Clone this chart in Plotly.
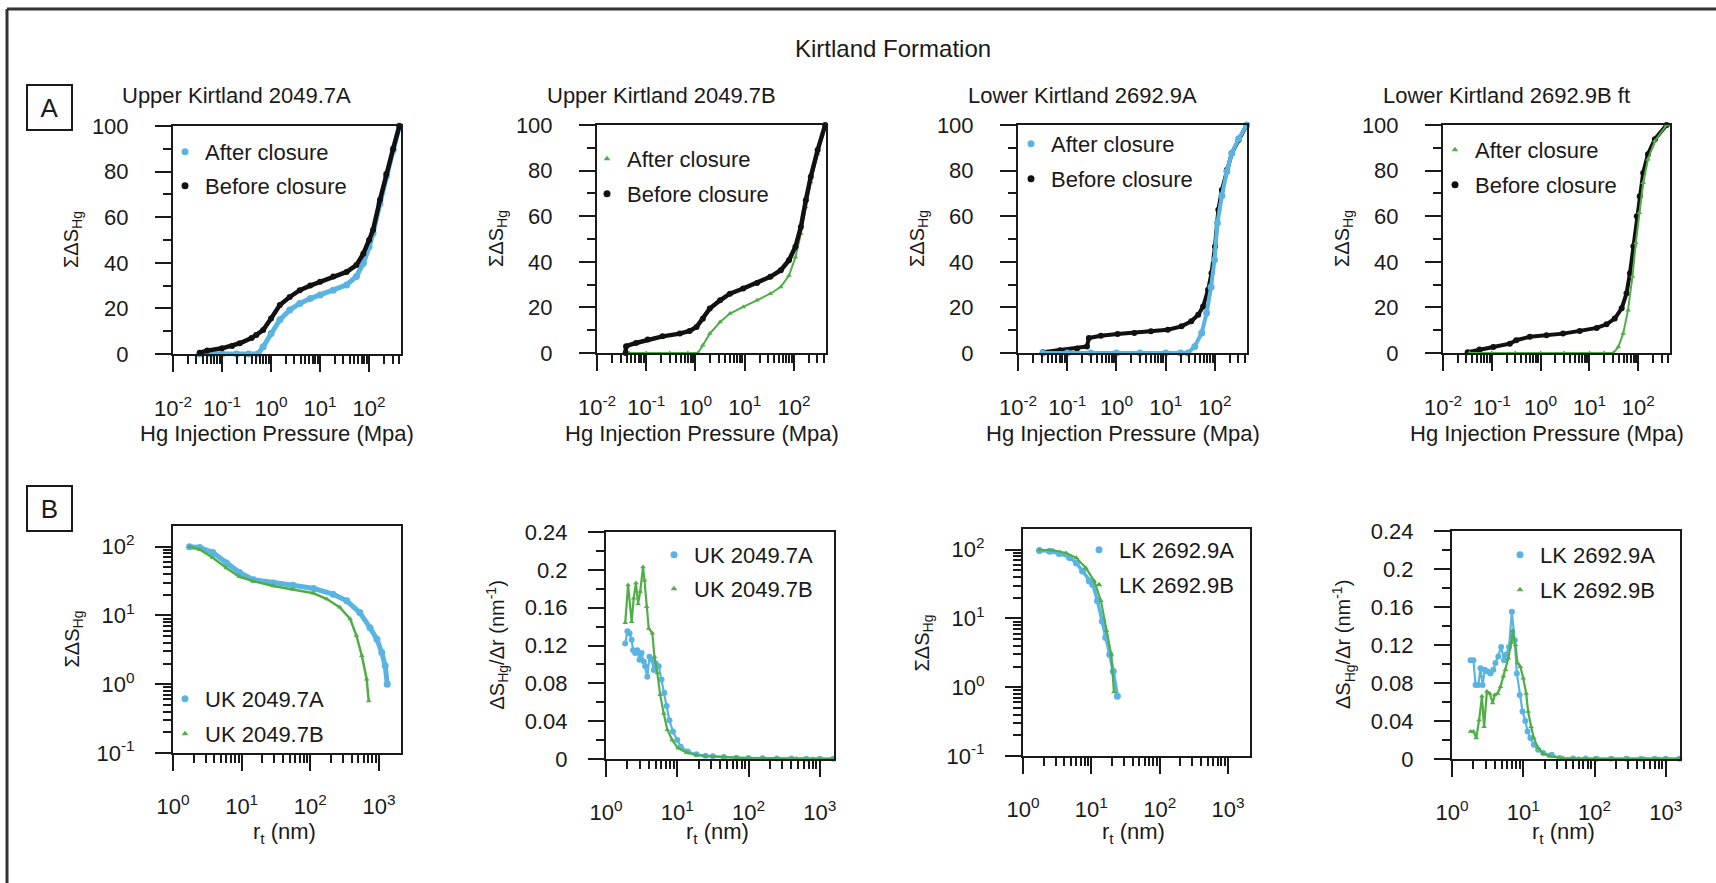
import plotly.graph_objects as go

W, H = 1716, 883
BLUE = "#5ab4e1"
GREEN = "#4fae45"
BLACK = "#111111"
INK = "#1a1a1a"
FONT = "Liberation Sans, Arial, sans-serif"

# ---------------- Row A: cumulative Hg saturation vs injection pressure (MPa) ----------------
A1_before_p = [0.035, 0.05, 0.1, 0.16, 0.23, 0.40, 0.50, 0.69, 1.0, 1.51, 2.4, 3.85, 6.3, 10, 18.6, 34.7, 55, 76, 100, 120, 166, 224, 309, 415]
A1_before_s = [0.6, 1.5, 2.5, 3.5, 4.7, 7.0, 8.3, 10.5, 15.6, 21.5, 25, 28, 30, 31.7, 34, 36, 39, 44, 50, 54.4, 67.5, 79, 90, 100]
A1_after_p = [0.035, 0.06, 0.1, 0.2, 0.35, 0.54, 0.69, 1.0, 1.51, 2.4, 3.85, 6.3, 10, 18.6, 34.7, 55, 76, 100, 120, 166, 224, 309, 415]
A1_after_s = [0, 0, 0, 0, 0, 0, 3.2, 9, 15, 19.3, 22.2, 24.3, 25.9, 28, 30.3, 34, 39.8, 47, 53, 66, 78, 89.5, 100]

A2_before_p = [0.038, 0.039, 0.062, 0.107, 0.214, 0.48, 0.76, 1.05, 1.41, 1.95, 3.16, 5.0, 9.3, 17.8, 33, 54, 79, 107, 138, 174, 219, 302, 430]
A2_before_s = [0, 3, 4.4, 5.9, 7.3, 8.5, 9.7, 11.4, 15, 19.5, 23.1, 26, 28.3, 30.7, 33.4, 36.3, 40.7, 46.6, 55.3, 67, 77.3, 89, 100]
A2_after_p = [0.045, 0.1, 0.3, 0.7, 1.12, 1.41, 1.95, 3.16, 5.0, 9.3, 17.8, 33, 54, 79, 107, 138, 174, 219, 302, 430]
A2_after_s = [0, 0, 0, 0, 0, 3.4, 8.5, 13.6, 17.3, 20.2, 23.1, 26, 29, 34, 42, 52.4, 64, 75, 87.4, 100]

A3_before_p = [0.032, 0.071, 0.158, 0.251, 0.275, 0.48, 1.05, 2.29, 5.0, 11, 20.9, 33, 45.7, 57.5, 72.4, 85, 100, 117, 138, 174, 219, 302, 440]
A3_before_s = [0.3, 1.2, 2.0, 2.9, 6.6, 7.6, 8.3, 8.8, 9.5, 10.2, 11.7, 13.9, 16.8, 20.4, 27.7, 35, 46.7, 62.8, 71.5, 80.3, 87.6, 93.4, 100]
A3_after_p = [0.032, 0.1, 0.3, 1, 3, 10, 20, 28.2, 38.9, 53.7, 67.6, 83.2, 97.7, 112, 138, 174, 219, 302, 440]
A3_after_s = [0, 0, 0, 0, 0, 0, 0, 0, 2.9, 8.8, 17.5, 29, 40.9, 57, 69, 79.6, 87.6, 94, 100]

A4_before_p = [0.032, 0.056, 0.107, 0.234, 0.316, 0.60, 1.32, 2.88, 6.3, 14.1, 22.4, 33, 45.7, 57.5, 67.6, 79.4, 93.3, 107, 126, 158, 219, 380]
A4_before_s = [0.3, 1.5, 2.6, 4.1, 5.6, 7.1, 7.8, 8.5, 9.7, 11, 12.6, 15.1, 19.6, 26.2, 35, 46.8, 60, 68.8, 79, 87.2, 93.8, 100]
A4_after_p = [0.035, 0.1, 0.3, 1, 3, 10, 20, 30.9, 38.9, 49, 61.7, 75.9, 89.1, 105, 126, 158, 219, 380]
A4_after_s = [0, 0, 0, 0, 0, 0, 0, 0, 2.6, 8.5, 18.8, 33.5, 48.2, 61.5, 74.7, 85, 93, 100]

# ---------------- Row B: pore-throat radius r_t (nm) ----------------
B1_A_r = [1.74, 2.45, 3.8, 6.0, 9.3, 14.8, 28.8, 56, 112, 214, 339, 525, 741, 933, 1096, 1230, 1318]
B1_A_s = [100, 97, 82, 58, 42, 33, 29.5, 27.5, 24.6, 20.4, 16.3, 11, 6.6, 4.5, 2.9, 1.85, 1.0]
B1_B_r = [1.74, 2.45, 3.8, 6.0, 9.3, 14.8, 28.8, 56, 112, 174, 269, 380, 468, 562, 661, 708]
B1_B_s = [100, 91, 69, 49, 36.5, 31.6, 26.8, 24, 21, 17.3, 13.1, 8.9, 5.1, 2.6, 1.18, 0.57]

B2_A_r = [1.86, 2.0, 2.14, 2.29, 2.4, 2.57, 2.75, 2.95, 3.16, 3.39, 3.55, 3.8, 4.07, 4.37, 4.68, 5.0, 5.5, 6.03, 6.6, 7.08, 7.76, 8.7, 10, 11.2, 14.1, 18.6, 25, 31.6, 45, 67.6, 100, 158, 250, 400, 650, 1000, 1550]
B2_A_d = [0.122, 0.135, 0.133, 0.126, 0.115, 0.112, 0.115, 0.105, 0.112, 0.103, 0.098, 0.087, 0.108, 0.105, 0.094, 0.101, 0.098, 0.084, 0.070, 0.056, 0.041, 0.029, 0.020, 0.013, 0.008, 0.005, 0.0035, 0.0028, 0.002, 0.0014, 0.001, 0.0007, 0.0005, 0.0004, 0.0003, 0.0003, 0.0003]
B2_B_r = [1.86, 2.04, 2.29, 2.45, 2.63, 2.82, 3.02, 3.31, 3.47, 3.72, 3.98, 4.47, 4.79, 5.25, 5.75, 6.46, 7.24, 8.51, 10.2, 13.5, 18.6, 25, 31.6, 45, 67.6, 100, 158, 250, 468, 800, 1550]
B2_B_d = [0.144, 0.184, 0.145, 0.170, 0.186, 0.164, 0.177, 0.203, 0.189, 0.161, 0.138, 0.133, 0.108, 0.091, 0.068, 0.048, 0.031, 0.020, 0.0116, 0.007, 0.004, 0.003, 0.0025, 0.0018, 0.0014, 0.001, 0.0007, 0.0005, 0.0004, 0.0003, 0.0003]

B3_A_r = [1.74, 2.45, 3.39, 4.79, 6.03, 7.41, 9.33, 10.5, 12.3, 14.5, 16.2, 18.6, 20.9, 24.0]
B3_A_s = [97.5, 94.5, 88, 77, 64, 49, 35, 31, 18, 9.1, 5.3, 3.0, 1.7, 0.74]
B3_B_r = [1.74, 2.75, 4.27, 6.03, 8.32, 11, 13.8, 16.6, 19.5, 21.4]
B3_B_s = [99, 98, 89.5, 76, 54, 35, 18, 6.6, 3.0, 0.85]

B4_A_r = [1.82, 2.0, 2.14, 2.34, 2.51, 2.69, 2.88, 3.16, 3.47, 3.8, 4.07, 4.47, 4.9, 5.37, 5.75, 6.31, 6.92, 7.59, 8.13, 8.91, 9.77, 10.7, 11.5, 12.6, 14.1, 16.2, 19.1, 25.1, 32.4, 50, 75, 107, 170, 280, 450, 700, 1000, 1550]
B4_A_d = [0.104, 0.104, 0.078, 0.078, 0.0955, 0.078, 0.094, 0.092, 0.090, 0.094, 0.101, 0.108, 0.118, 0.104, 0.110, 0.118, 0.155, 0.125, 0.090, 0.0675, 0.050, 0.040, 0.029, 0.022, 0.015, 0.0098, 0.0063, 0.0045, 0.001, 0.0005, 0.0004, 0.0003, 0.0003, 0.0003, 0.0003, 0.0003, 0.0003, 0.0003]
B4_B_r = [1.82, 2.0, 2.19, 2.4, 2.63, 2.82, 3.09, 3.39, 3.72, 3.98, 4.37, 4.79, 5.25, 5.62, 6.17, 6.76, 7.08, 7.76, 8.32, 9.12, 10, 11, 11.7, 12.9, 14.1, 16.2, 19.1, 23.4, 36.3, 60, 100, 182, 300, 500, 800, 1550]
B4_B_d = [0.029, 0.029, 0.022, 0.041, 0.066, 0.034, 0.071, 0.069, 0.059, 0.0675, 0.069, 0.076, 0.087, 0.094, 0.106, 0.122, 0.135, 0.120, 0.101, 0.097, 0.085, 0.069, 0.050, 0.034, 0.022, 0.0115, 0.0056, 0.0028, 0.001, 0.0005, 0.0004, 0.0003, 0.0003, 0.0003, 0.0003, 0.0003]

# ---------------- labels ----------------
main_title = "Kirtland Formation"
panel_titles = ["Upper Kirtland 2049.7A", "Upper Kirtland 2049.7B", "Lower Kirtland 2692.9A", "Lower Kirtland 2692.9B ft"]
x_title_A = "Hg Injection Pressure (Mpa)"
x_title_B = "r<sub>t</sub> (nm)"
y_title_cum = "ΣΔS<sub>Hg</sub>"
y_title_inc = "ΔS<sub>Hg</sub>/Δr (nm<sup>-1</sup>)"
pressure_ticks = [0.01, 0.1, 1, 10, 100]
pressure_ticktext = ["10<sup>-2</sup>", "10<sup>-1</sup>", "10<sup>0</sup>", "10<sup>1</sup>", "10<sup>2</sup>"]
radius_ticks = [1, 10, 100, 1000]
radius_ticktext = ["10<sup>0</sup>", "10<sup>1</sup>", "10<sup>2</sup>", "10<sup>3</sup>"]
cum_log_ticks = [0.1, 1, 10, 100]
cum_log_ticktext = ["10<sup>-1</sup>", "10<sup>0</sup>", "10<sup>1</sup>", "10<sup>2</sup>"]
inc_ticks = [0, 0.04, 0.08, 0.12, 0.16, 0.2, 0.24]
inc_ticktext = ["0", "0.04", "0.08", "0.12", "0.16", "0.2", "0.24"]
sat_ticks = [0, 20, 40, 60, 80, 100]
sat_ticktext = ["0", "20", "40", "60", "80", "100"]

# ---------------- helpers ----------------
def fx(px):
    return px / W

def fy(py):
    return 1 - py / H

def minor_log(lo, hi):
    return [m * 10 ** e for e in range(lo, hi) for m in range(2, 10)]

# panel geometry in pixels: (x0, x1, y_top, y_bottom)
geom = {
    1: (173, 401, 126, 354), 2: (597, 826, 125, 353), 3: (1018, 1247, 125, 353), 4: (1443, 1670, 125, 353),
    5: (173, 401, 526, 753), 6: (606, 834, 532, 759), 7: (1023, 1250, 529, 756), 8: (1452, 1680, 531, 759),
}

axis_common = dict(
    showline=True, linecolor=INK, linewidth=2, mirror=True,
    ticks="outside", ticklen=16, tickwidth=2, tickcolor=INK,
    showgrid=False, zeroline=False,
    tickfont=dict(family=FONT, size=22, color=INK),
)

fig = go.Figure()
layout = dict(
    width=W, height=H, margin=dict(l=0, r=0, t=0, b=0, pad=0, autoexpand=False),
    paper_bgcolor="white", plot_bgcolor="white", showlegend=True,
    font=dict(family=FONT, color=INK),
)

for i, (x0, x1, yt, yb) in geom.items():
    xk = "xaxis" if i == 1 else f"xaxis{i}"
    yk = "yaxis" if i == 1 else f"yaxis{i}"
    xa = dict(axis_common, domain=[fx(x0), fx(x1)], anchor="y" if i == 1 else f"y{i}")
    ya = dict(axis_common, domain=[fy(yb), fy(yt)], anchor="x" if i == 1 else f"x{i}")
    if i <= 4:
        xa.update(type="log", range=[-2, 2.65], tickmode="array", tickvals=pressure_ticks,
                  ticktext=pressure_ticktext, ticklabelstandoff=18,
                  minor=dict(ticks="outside", ticklen=8, tickwidth=1.5, tickcolor=INK,
                             tickmode="array", tickvals=minor_log(-2, 3), showgrid=False))
        ya.update(type="linear", range=[0, 100], tickmode="array", tickvals=sat_ticks,
                  ticktext=sat_ticktext, ticklabelstandoff=22,
                  minor=dict(ticks="outside", ticklen=8, tickwidth=1.5, tickcolor=INK,
                             tickmode="array", tickvals=[10, 30, 50, 70, 90], showgrid=False))
    else:
        xr = [0, 3.32] if i in (5, 7) else [0, 3.2]
        xa.update(type="log", range=xr, tickmode="array", tickvals=radius_ticks,
                  ticktext=radius_ticktext, ticklabelstandoff=17,
                  minor=dict(ticks="outside", ticklen=8, tickwidth=1.5, tickcolor=INK,
                             tickmode="array", tickvals=minor_log(0, 3), showgrid=False))
        if i in (5, 7):
            ya.update(type="log", range=[-1, 2.3], tickmode="array", tickvals=cum_log_ticks,
                      ticktext=cum_log_ticktext, ticklabelstandoff=16,
                      minor=dict(ticks="outside", ticklen=8, tickwidth=1.5, tickcolor=INK,
                                 tickmode="array", tickvals=minor_log(-1, 2), showgrid=False))
        else:
            ya.update(type="linear", range=[0, 0.24], tickmode="array", tickvals=inc_ticks,
                      ticktext=inc_ticktext, ticklabelstandoff=16,
                      minor=dict(ticks="outside", ticklen=8, tickwidth=1.5, tickcolor=INK,
                                 tickmode="array", tickvals=[0.02, 0.06, 0.1, 0.14, 0.18, 0.22], showgrid=False))
    layout[xk] = xa
    layout[yk] = ya


def ax(i):
    return ("x", "y") if i == 1 else (f"x{i}", f"y{i}")


def add_series(i, x, y, color, symbol, msize, lwidth):
    xa_, ya_ = ax(i)
    fig.add_trace(go.Scatter(
        x=x, y=y, xaxis=xa_, yaxis=ya_, mode="lines+markers",
        line=dict(color=color, width=lwidth),
        marker=dict(color=color, symbol=symbol, size=msize, line=dict(width=0)),
        showlegend=False, cliponaxis=False, hoverinfo="x+y",
    ))


# Row A (draw order per panel to mimic overlap)
add_series(1, A1_after_p, A1_after_s, BLUE, "circle", 7, 5)
add_series(1, A1_before_p, A1_before_s, BLACK, "circle", 6, 4.5)
add_series(2, A2_after_p, A2_after_s, GREEN, "triangle-up", 5, 2)
add_series(2, A2_before_p, A2_before_s, BLACK, "circle", 6, 4.5)
add_series(3, A3_before_p, A3_before_s, BLACK, "circle", 6, 4)
add_series(3, A3_after_p, A3_after_s, BLUE, "circle", 7, 4)
add_series(4, A4_before_p, A4_before_s, BLACK, "circle", 6, 4)
add_series(4, A4_after_p, A4_after_s, GREEN, "triangle-up", 5, 2)
# Row B
add_series(5, B1_A_r, B1_A_s, BLUE, "circle", 7, 5)
add_series(5, B1_B_r, B1_B_s, GREEN, "triangle-up", 5, 2.5)
add_series(6, B2_A_r, B2_A_d, BLUE, "circle", 6, 2.2)
add_series(6, B2_B_r, B2_B_d, GREEN, "triangle-up", 5, 2.2)
add_series(7, B3_A_r, B3_A_s, BLUE, "circle", 7, 3.5)
add_series(7, B3_B_r, B3_B_s, GREEN, "triangle-up", 5, 2.2)
add_series(8, B4_A_r, B4_A_d, BLUE, "circle", 6, 2.2)
add_series(8, B4_B_r, B4_B_d, GREEN, "triangle-up", 5, 2.2)

# ---------------- legends (one entry each, positioned like the reference) ----------------
legend_entries = [
    (1, "After closure", BLUE, "circle", (187, 150)),
    (1, "Before closure", BLACK, "circle", (187, 184)),
    (2, "After closure", GREEN, "triangle-up", (609, 157)),
    (2, "Before closure", BLACK, "circle", (609, 192)),
    (3, "After closure", BLUE, "circle", (1033, 142)),
    (3, "Before closure", BLACK, "circle", (1033, 177)),
    (4, "After closure", GREEN, "triangle-up", (1457, 148)),
    (4, "Before closure", BLACK, "circle", (1457, 183)),
    (5, "UK 2049.7A", BLUE, "circle", (187, 697)),
    (5, "UK 2049.7B", GREEN, "triangle-up", (187, 732)),
    (6, "UK 2049.7A", BLUE, "circle", (676, 553)),
    (6, "UK 2049.7B", GREEN, "triangle-up", (676, 587)),
    (7, "LK 2692.9A", BLUE, "circle", (1101, 548)),
    (7, "LK 2692.9B", GREEN, "triangle-up", (1101, 583)),
    (8, "LK 2692.9A", BLUE, "circle", (1522, 553)),
    (8, "LK 2692.9B", GREEN, "triangle-up", (1522, 588)),
]
for k, (i, name, color, symbol, (mx, my)) in enumerate(legend_entries):
    lname = "legend" if k == 0 else f"legend{k + 1}"
    xa_, ya_ = ax(i)
    fig.add_trace(go.Scatter(
        x=[None], y=[None], xaxis=xa_, yaxis=ya_, mode="markers", name=name,
        marker=dict(color=color, symbol=symbol, size=7 if symbol == "circle" else 6),
        showlegend=True, legend=lname,
    ))
    layout[lname] = dict(
        x=fx(mx - 22), y=fy(my - 19), xanchor="left", yanchor="top",
        bgcolor="rgba(0,0,0,0)", borderwidth=0,
        font=dict(family=FONT, size=22, color=INK),
    )

# ---------------- annotations ----------------
def text_ann(text, px, py, size, angle=0, **kw):
    d = dict(text=text, x=fx(px), y=fy(py), xref="paper", yref="paper", showarrow=False,
             xanchor="center", yanchor="middle", textangle=angle,
             font=dict(size=size, family=FONT, color=INK))
    d.update(kw)
    return d

ann = [text_ann(main_title, 893, 49, 24)]
for j, t in enumerate(panel_titles):
    x0, x1, yt, yb = geom[j + 1]
    ann.append(text_ann(t, (x0 + x1) / 2 - 50, 96, 22))
for i in range(1, 9):
    x0, x1, yt, yb = geom[i]
    if i <= 4:
        ann.append(text_ann(x_title_A, (x0 + x1) / 2 - 10, 433, 22))
        ann.append(text_ann(y_title_cum, x0 - 100, (yt + yb) / 2, 20, angle=-90))
    else:
        ann.append(text_ann(x_title_B, (x0 + x1) / 2 - 3, 833, 22))
        yt_txt = y_title_cum if i in (5, 7) else y_title_inc
        off = 100 if i in (5, 7) else 109
        ann.append(text_ann(yt_txt, x0 - off, (yt + yb) / 2, 20, angle=-90))
# boxed panel letters
for letter, cy in (("A", 107.5), ("B", 508.5)):
    ann.append(text_ann(letter, 49.5, cy, 26, width=41, height=41, borderwidth=2,
                        bordercolor=INK, borderpad=1))
layout["annotations"] = ann

# outer frame (top and left edges visible in the reference crop)
layout["shapes"] = [
    dict(type="line", xref="paper", yref="paper", x0=fx(7), x1=1, y0=fy(9), y1=fy(9),
         line=dict(color="#333333", width=3)),
    dict(type="line", xref="paper", yref="paper", x0=fx(7), x1=fx(7), y0=fy(9), y1=0,
         line=dict(color="#333333", width=3)),
]

fig.update_layout(**layout)
fig.write_html("out.html")
